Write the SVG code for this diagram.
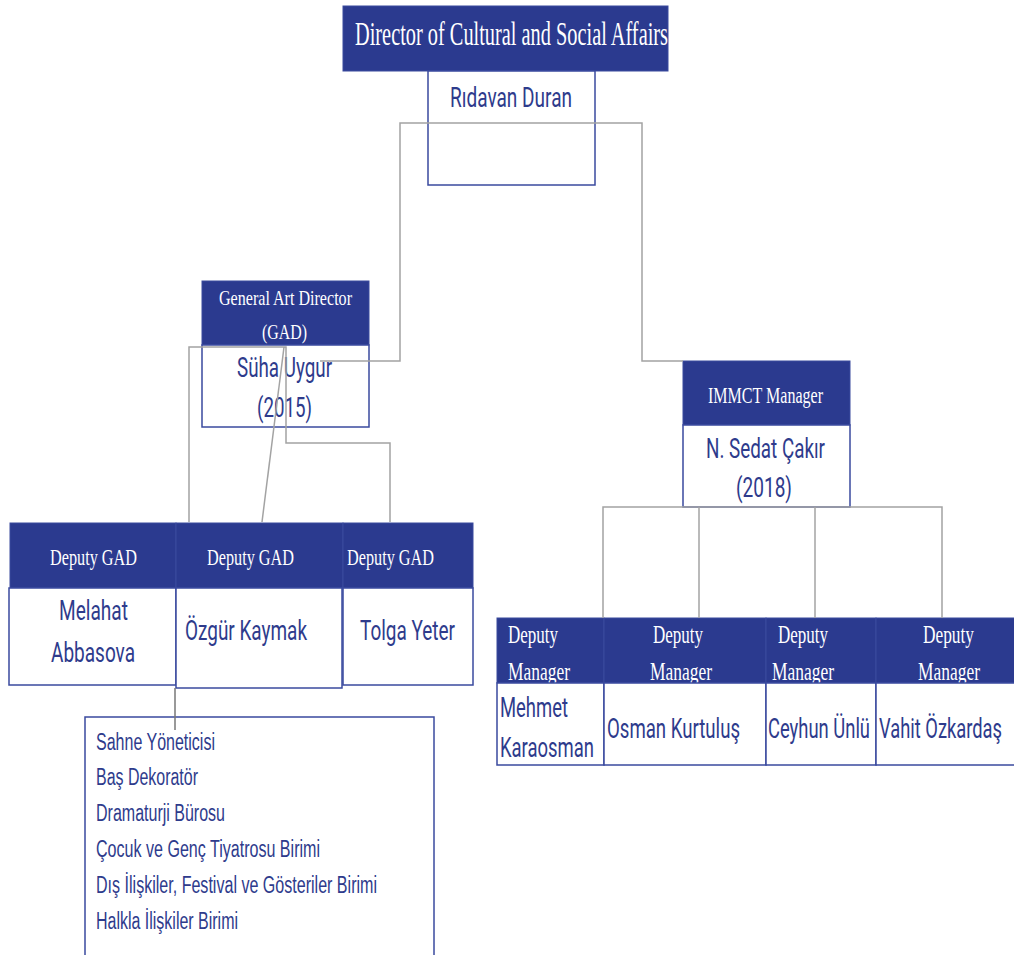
<svg xmlns="http://www.w3.org/2000/svg" width="1014" height="955" viewBox="0 0 1014 955">
<style>
.hd{fill:#2b3a8f;stroke:#3a4a9e;stroke-width:1}
.bx{fill:#ffffff;stroke:#3a4a9e;stroke-width:1.5}
.ti{font-family:"Liberation Serif","Times New Roman",serif;fill:#ffffff}
.nm{font-family:Roboto,"Liberation Sans",sans-serif;fill:#2e3b8c}
.ls{font-family:"Liberation Sans",Arial,sans-serif;fill:#2e3b8c;font-size:23px}
.cn{fill:none;stroke:#a3a3a3;stroke-width:1.5}
</style>
<rect width="1014" height="955" fill="#ffffff"/>

<g id="director">
<rect class="hd" x="343" y="6" width="325" height="65"/>
<text class="ti" x="355" y="45" font-size="34" textLength="313" lengthAdjust="spacingAndGlyphs">Director of Cultural and Social Affairs</text>
<rect class="bx" x="428" y="71" width="167" height="114"/>
<text class="nm" x="450" y="107" font-size="28" textLength="122" lengthAdjust="spacingAndGlyphs">Rıdavan Duran</text>
</g>

<g id="gad">
<rect class="hd" x="202" y="281" width="167" height="64"/>
<text class="ti" x="219" y="305" font-size="22" textLength="133" lengthAdjust="spacingAndGlyphs">General Art Director</text>
<text class="ti" x="262" y="339" font-size="22" textLength="45" lengthAdjust="spacingAndGlyphs">(GAD)</text>
<rect class="bx" x="202" y="345" width="167" height="82"/>
<text class="nm" x="237" y="377" font-size="28" textLength="95" lengthAdjust="spacingAndGlyphs">Süha Uygur</text>
<text class="nm" x="257" y="417" font-size="28" textLength="55" lengthAdjust="spacingAndGlyphs">(2015)</text>
</g>

<g id="immct">
<rect class="hd" x="683" y="361" width="167" height="64"/>
<text class="ti" x="708" y="403" font-size="23" textLength="115" lengthAdjust="spacingAndGlyphs">IMMCT Manager</text>
<rect class="bx" x="683" y="425" width="167" height="82"/>
<text class="nm" x="706" y="458" font-size="28" textLength="119" lengthAdjust="spacingAndGlyphs">N. Sedat Çakır</text>
<text class="nm" x="736" y="497" font-size="28" textLength="56" lengthAdjust="spacingAndGlyphs">(2018)</text>
</g>

<g id="deputy-gad-1">
<rect class="hd" x="10" y="523" width="166" height="65"/>
<text class="ti" x="50" y="565" font-size="24" textLength="87" lengthAdjust="spacingAndGlyphs">Deputy GAD</text>
<rect class="bx" x="9" y="588" width="167" height="97"/>
<text class="nm" x="59" y="620" font-size="28" textLength="69" lengthAdjust="spacingAndGlyphs">Melahat</text>
<text class="nm" x="51" y="662" font-size="28" textLength="84" lengthAdjust="spacingAndGlyphs">Abbasova</text>
</g>

<g id="deputy-gad-2">
<rect class="hd" x="176" y="523" width="167" height="65"/>
<text class="ti" x="207" y="565" font-size="24" textLength="87" lengthAdjust="spacingAndGlyphs">Deputy GAD</text>
<rect class="bx" x="176" y="588" width="166" height="100"/>
<text class="nm" x="185" y="640" font-size="28" textLength="122" lengthAdjust="spacingAndGlyphs">Özgür Kaymak</text>
</g>

<g id="deputy-gad-3">
<rect class="hd" x="343" y="523" width="130" height="65"/>
<text class="ti" x="347" y="565" font-size="24" textLength="87" lengthAdjust="spacingAndGlyphs">Deputy GAD</text>
<rect class="bx" x="343" y="588" width="130" height="97"/>
<text class="nm" x="360" y="640" font-size="28" textLength="95" lengthAdjust="spacingAndGlyphs">Tolga Yeter</text>
</g>

<g id="deputy-manager-1">
<rect class="hd" x="497" y="618" width="107" height="65"/>
<text class="ti" x="508" y="643" font-size="25" textLength="50" lengthAdjust="spacingAndGlyphs">Deputy</text>
<text class="ti" x="508" y="680" font-size="25" textLength="62" lengthAdjust="spacingAndGlyphs">Manager</text>
<rect class="bx" x="497" y="683" width="107" height="82"/>
<text class="nm" x="500" y="717" font-size="28" textLength="68" lengthAdjust="spacingAndGlyphs">Mehmet</text>
<text class="nm" x="500" y="757" font-size="28" textLength="94" lengthAdjust="spacingAndGlyphs">Karaosman</text>
</g>

<g id="deputy-manager-2">
<rect class="hd" x="604" y="618" width="162" height="65"/>
<text class="ti" x="653" y="643" font-size="25" textLength="50" lengthAdjust="spacingAndGlyphs">Deputy</text>
<text class="ti" x="650" y="680" font-size="25" textLength="62" lengthAdjust="spacingAndGlyphs">Manager</text>
<rect class="bx" x="604" y="683" width="162" height="82"/>
<text class="nm" x="607" y="738" font-size="27" textLength="133" lengthAdjust="spacingAndGlyphs">Osman Kurtuluş</text>
</g>

<g id="deputy-manager-3">
<rect class="hd" x="766" y="618" width="110" height="65"/>
<text class="ti" x="778" y="643" font-size="25" textLength="50" lengthAdjust="spacingAndGlyphs">Deputy</text>
<text class="ti" x="772" y="680" font-size="25" textLength="62" lengthAdjust="spacingAndGlyphs">Manager</text>
<rect class="bx" x="766" y="683" width="110" height="82"/>
<text class="nm" x="768" y="738" font-size="27" textLength="102" lengthAdjust="spacingAndGlyphs">Ceyhun Ünlü</text>
</g>

<g id="deputy-manager-4">
<rect class="hd" x="876" y="618" width="140" height="65"/>
<text class="ti" x="923" y="643" font-size="25" textLength="51" lengthAdjust="spacingAndGlyphs">Deputy</text>
<text class="ti" x="918" y="680" font-size="25" textLength="62" lengthAdjust="spacingAndGlyphs">Manager</text>
<rect class="bx" x="876" y="683" width="140" height="82"/>
<text class="nm" x="879" y="738" font-size="27" textLength="123" lengthAdjust="spacingAndGlyphs">Vahit Özkardaş</text>
</g>

<g id="units">
<rect class="bx" x="85" y="717" width="349" height="250"/>
<text class="ls" x="96" y="750" textLength="119" lengthAdjust="spacingAndGlyphs">Sahne Yöneticisi</text>
<text class="ls" x="96" y="785" textLength="102" lengthAdjust="spacingAndGlyphs">Baş Dekoratör</text>
<text class="ls" x="96" y="821" textLength="129" lengthAdjust="spacingAndGlyphs">Dramaturji Bürosu</text>
<text class="ls" x="96" y="857" textLength="224" lengthAdjust="spacingAndGlyphs">Çocuk ve Genç Tiyatrosu Birimi</text>
<text class="ls" x="96" y="893" textLength="281" lengthAdjust="spacingAndGlyphs">Dış İlişkiler, Festival ve Gösteriler Birimi</text>
<text class="ls" x="96" y="929" textLength="142" lengthAdjust="spacingAndGlyphs">Halkla İlişkiler Birimi</text>
</g>

<g id="connectors">
<polyline class="cn" points="320,361 400,361 400,123 642,123 642,361 683,361"/>
<polyline class="cn" points="189,522 189,347 286,347 286,443 390,443 390,522"/>
<line class="cn" x1="284" y1="347" x2="262" y2="522"/>
<line class="cn" x1="175" y1="688" x2="175" y2="730" style="stroke:#777777"/>
<polyline class="cn" points="603,618 603,507 942,507 942,618"/>
<line class="cn" x1="699" y1="507" x2="699" y2="618"/>
<line class="cn" x1="815" y1="507" x2="815" y2="618"/>
</g>
</svg>
